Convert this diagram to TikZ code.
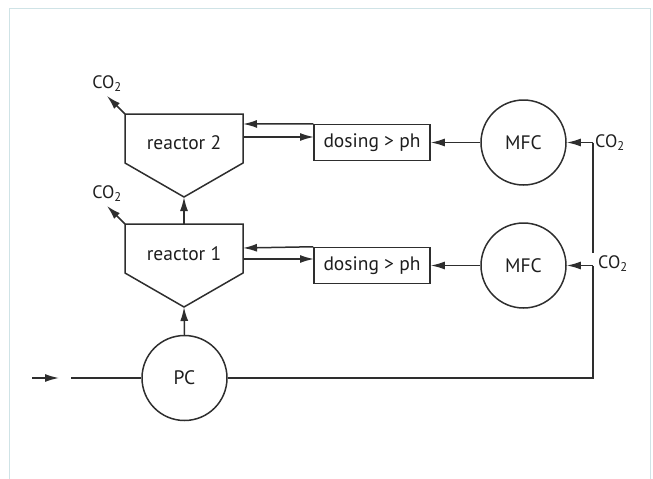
\documentclass[tikz,border=0pt]{standalone}
\usepackage{fontspec}
\setmainfont{PT Sans}
\usetikzlibrary{arrows.meta,calc}
\definecolor{ln}{HTML}{2E2E2E}
\definecolor{txt}{HTML}{1E1E1E}
\definecolor{frame}{HTML}{CFE3E6}
\tikzset{
  flow/.style={draw=ln,line width=1.5pt,-{Latex[length=14pt,width=8pt]}},
  pipe/.style={draw=ln,line width=1.5pt},
  vessel/.style={draw=ln,line width=1.5pt},
  lbl/.style={text=txt,font=\fontsize{19.5}{22}\selectfont,inner sep=0pt},
  small/.style={text=txt,font=\fontsize{18}{20}\selectfont,inner sep=0pt},
  ctrl/.style={circle,draw=ln,line width=1.5pt,minimum size=85pt,inner sep=0pt,text=txt,font=\fontsize{19.5}{22}\selectfont},
  dosebox/.style={rectangle,draw=ln,line width=1.5pt,minimum width=116pt,minimum height=36pt,inner sep=0pt,text=txt,font=\fontsize{19.5}{22}\selectfont}
}
\begin{document}
\begin{tikzpicture}[x=1pt,y=-1pt]
\useasboundingbox (0,0) rectangle (653,479);
\draw[frame,line width=1pt] (9,479) -- (9,8) -- (650,8) -- (650,479);
% reactor 2
\coordinate (r2tl) at (125,114);
\coordinate (r2tr) at (243,114);
\coordinate (r2sr) at (243,163);
\coordinate (r2p) at (184,197);
\coordinate (r2sl) at (125,163);
\draw[vessel] (r2tl) -- (r2tr) -- (r2sr) -- (r2p) -- (r2sl) -- cycle;
\node[lbl] (r2t) at (184,143) {reactor 2};
% reactor 1
\coordinate (r1tl) at (125,224);
\coordinate (r1tr) at (243,224);
\coordinate (r1sr) at (243,273);
\coordinate (r1p) at (184,307);
\coordinate (r1sl) at (125,273);
\draw[vessel] (r1tl) -- (r1tr) -- (r1sr) -- (r1p) -- (r1sl) -- cycle;
\node[lbl] (r1t) at (184,254) {reactor 1};
\coordinate (r1top) at (184,224);
% dosing
\node[dosebox] (d1) at (372,142.5) {dosing > ph};
\node[dosebox] (d2) at (372,265.5) {dosing > ph};
% controllers
\node[ctrl] (mfc1) at (523.5,142.5) {MFC};
\node[ctrl] (mfc2) at (523.5,265.5) {MFC};
\node[ctrl] (pc) at (184.5,378) {PC};
% CO2 labels
\node[small] (c2) at (107,84) {CO\textsubscript{2}};
\node[small] (c1) at (107,194) {CO\textsubscript{2}};
\node[small,anchor=west] (cm1) at (595,143) {CO\textsubscript{2}};
\node[small,anchor=west] (cm2) at (598,264) {CO\textsubscript{2}};
\coordinate (c2t) at (107,96);
\coordinate (c1t) at (107,206);
\draw[flow] (r2tl) -- (c2t);
\draw[flow] (r1tl) -- (c1t);
% vertical flow between vessels
\draw[flow] (r1top) -- (r2p);
\draw[flow] (pc.north) -- (r1p);
% reactor 2 <-> dosing 1
\coordinate (a2) at (243,124);
\coordinate (b2a) at (243,137);
\coordinate (b2b) at (314,137);
\draw[flow] (d1.north west) -- (a2);
\draw[flow] (b2a) -- (b2b);
% reactor 1 <-> dosing 2
\coordinate (a1) at (243,248);
\coordinate (b1a) at (243,259);
\coordinate (b1b) at (314,259);
\draw[flow] (d2.north west) -- (a1);
\draw[flow] (b1a) -- (b1b);
% MFC -> dosing
\draw[flow] (mfc1.west) -- (d1.east);
\draw[flow] (mfc2.west) -- (d2.east);
% CO2 supply
\coordinate (s1) at (593,142.5);
\coordinate (s1b) at (593,253);
\coordinate (s2) at (593,265.5);
\coordinate (s3) at (593,378);
\draw[flow] (s1) -- (mfc1.east);
\draw[pipe] (s1) -- (s1b);
\draw[flow] (s2) -- (mfc2.east);
\draw[pipe] (pc.east) -- (s3) -- (s2);
% inlet
\coordinate (in0) at (32,378);
\coordinate (in1) at (59,378);
\coordinate (in2) at (71,378);
\draw[flow] (in0) -- (in1);
\draw[pipe] (in2) -- (pc.west);
\end{tikzpicture}
\end{document}
